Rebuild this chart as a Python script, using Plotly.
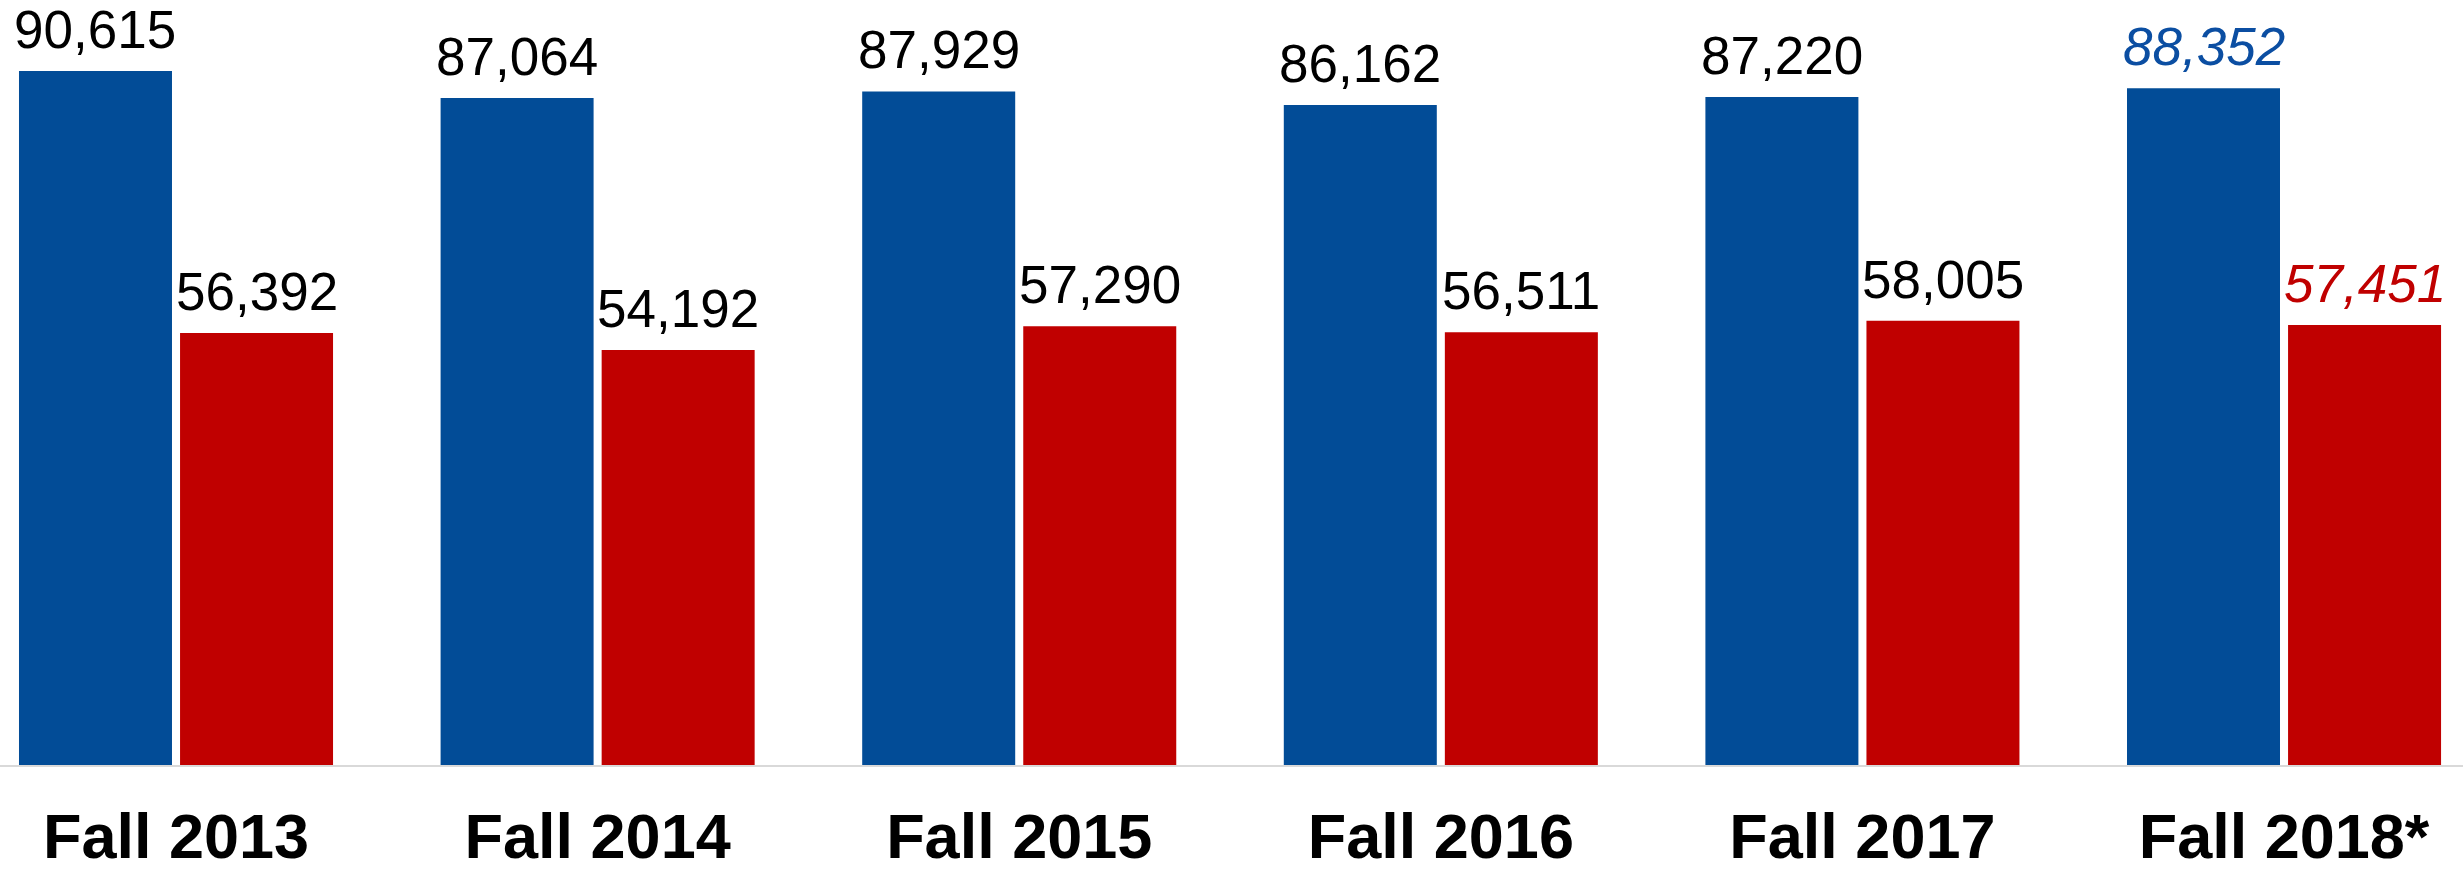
import plotly.graph_objects as go

categories = ["Fall 2013", "Fall 2014", "Fall 2015", "Fall 2016", "Fall 2017", "Fall 2018*"]
blue_values = [90615, 87064, 87929, 86162, 87220, 88352]
red_values = [56392, 54192, 57290, 56511, 58005, 57451]

BLUE = "#024C97"
RED = "#C00000"
BLUE_LABEL_LAST = "#0B4EA2"
BARGAP = 0.236
BARGROUPGAP = 0.05
FONT = "Liberation Sans, Arial, sans-serif"

fig = go.Figure()
fig.add_trace(go.Bar(x=categories, y=blue_values, marker_color=BLUE,
                     marker_line_width=0, name="Blue", hoverinfo="y"))
fig.add_trace(go.Bar(x=categories, y=red_values, marker_color=RED,
                     marker_line_width=0, name="Red", hoverinfo="y"))

# value labels above each bar (centred over the bar within its group)
half = (1 - BARGAP) / 4
n = len(categories)
annotations = []
for vals, side, last_color in ((blue_values, -1, BLUE_LABEL_LAST), (red_values, 1, RED)):
    for i, v in enumerate(vals):
        is_last = i == n - 1
        txt = f"{v:,}"
        annotations.append(dict(
            x=i + side * half, y=v, xref="x", yref="y",
            text=f"<i>{txt}</i>" if is_last else txt,
            showarrow=False, xanchor="center", yanchor="bottom", yshift=10,
            font=dict(family=FONT, size=53, color=last_color if is_last else "black"),
        ))

fig.update_layout(
    width=2463, height=869,
    margin=dict(l=0, r=0, t=0, b=104, autoexpand=False),
    paper_bgcolor="white", plot_bgcolor="white",
    barmode="group", bargap=BARGAP, bargroupgap=BARGROUPGAP,
    showlegend=False,
    annotations=annotations,
    xaxis=dict(
        range=[-0.4175, 5.4245], showline=True, linecolor="#d9d9d9", linewidth=2,
        showgrid=False, zeroline=False, ticks="", ticklabelstandoff=15,
        tickfont=dict(family=FONT, size=63, color="black", weight="bold"),
        automargin=False, fixedrange=True,
    ),
    yaxis=dict(range=[0, 99870], visible=False, showgrid=False, zeroline=False,
               automargin=False, fixedrange=True),
)

fig.write_html("out.html", config={"displayModeBar": False},
               post_script="document.body.style.margin='0';document.body.style.overflow='hidden';")
